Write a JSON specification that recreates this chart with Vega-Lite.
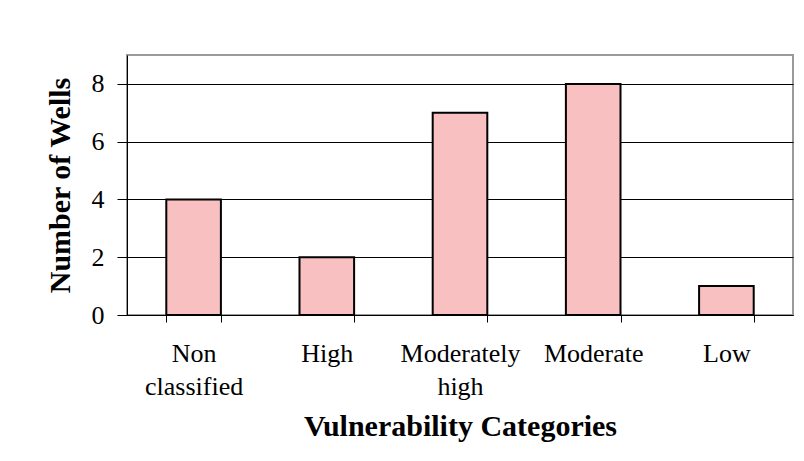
{
  "$schema": "https://vega.github.io/schema/vega-lite/v6.json",
  "width": 666,
  "height": 260,
  "autosize": {"type": "none"},
  "padding": {"left": 127, "top": 55, "right": 11, "bottom": 146},
  "background": "white",
  "config": {
    "view": {"stroke": "#9a9a9a", "strokeWidth": 2},
    "font": "Liberation Serif"
  },
  "data": {
    "values": [
      {"category": "Non classified", "wells": 4},
      {"category": "High", "wells": 2},
      {"category": "Moderately high", "wells": 7},
      {"category": "Moderate", "wells": 8},
      {"category": "Low", "wells": 1}
    ]
  },
  "mark": {"type": "bar", "fill": "#f8c0c0", "stroke": "black", "strokeWidth": 2},
  "encoding": {
    "x": {
      "field": "category",
      "type": "nominal",
      "sort": null,
      "scale": {"paddingInner": 0.59, "paddingOuter": 0.295},
      "axis": {
        "title": "Vulnerability Categories",
        "labelAngle": 0,
        "tickBand": "extent",
        "tickSize": 7,
        "tickColor": "black",
        "domainColor": "black",
        "domainWidth": 1,
        "labelFont": "Liberation Serif",
        "labelFontSize": 26,
        "labelColor": "black",
        "labelPadding": 18,
        "labelLineHeight": 33,
        "labelExpr": "datum.label == 'Non classified' ? ['Non', 'classified'] : datum.label == 'Moderately high' ? ['Moderately', 'high'] : datum.label",
        "titleFont": "Liberation Serif",
        "titleFontSize": 30,
        "titleFontWeight": "bold",
        "titleColor": "black",
        "titlePadding": 12
      }
    },
    "y": {
      "field": "wells",
      "type": "quantitative",
      "scale": {"domain": [0, 9]},
      "axis": {
        "title": "Number of Wells",
        "values": [0, 2, 4, 6, 8],
        "grid": true,
        "gridColor": "black",
        "gridOpacity": 1,
        "gridWidth": 1,
        "tickSize": 10,
        "tickColor": "black",
        "domainColor": "black",
        "labelFont": "Liberation Serif",
        "labelFontSize": 26,
        "labelColor": "black",
        "labelPadding": 13,
        "titleFont": "Liberation Serif",
        "titleFontSize": 30,
        "titleFontWeight": "bold",
        "titleColor": "black",
        "titlePadding": 16
      }
    }
  }
}
